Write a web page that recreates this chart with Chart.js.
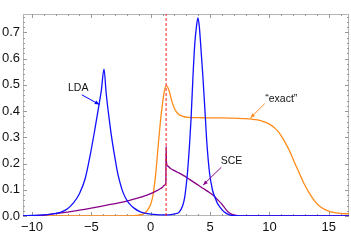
<!DOCTYPE html>
<html>
<head>
<meta charset="utf-8">
<script src="https://cdn.jsdelivr.net/npm/chart.js@4"></script>
<style>
  html, body { margin: 0; padding: 0; background: #fff; }
  canvas { display: block; }
</style>
</head>
<body>
<canvas id="density" width="351" height="248"></canvas>
<script>
// axis ticks
const xTicks = [-10, -5, 0, 5, 10, 15];
const yTicks = [0, 0.1, 0.2, 0.3, 0.4, 0.5, 0.6, 0.7];

// LDA density (blue)
const ldaX = [-10.75, -10, -9, -8.5, -8, -7.5, -7, -6.5, -6, -5.5, -5.1, -4.7, -4.4, -4.15, -3.93,
  -3.75, -3.55, -3.35, -3.15, -3.0, -2.85, -2.6, -2.33, -2.0, -1.76, -1.4, -0.92, -0.5, 0, 0.5, 1.0, 1.3,
  1.7, 2.0, 2.4, 2.7, 2.86, 3.0, 3.1, 3.28, 3.4, 3.56, 3.72, 3.85, 3.98, 4.1, 4.2, 4.4, 4.6, 4.73, 4.96,
  5.2, 5.38, 5.6, 5.8, 6.2, 6.64, 7.2, 8, 10, 12, 14, 16.7];
const ldaY = [0.001, 0.002, 0.004, 0.006, 0.01, 0.016, 0.028, 0.05, 0.085, 0.145, 0.23, 0.33, 0.41, 0.48, 0.56,
  0.47, 0.39, 0.32, 0.26, 0.22, 0.18, 0.13, 0.09, 0.06, 0.045, 0.03, 0.017, 0.011, 0.007, 0.005, 0.004, 0.004,
  0.005, 0.008, 0.015, 0.04, 0.07, 0.12, 0.165, 0.277, 0.37, 0.53, 0.66, 0.72, 0.755, 0.72, 0.66, 0.53, 0.38, 0.28, 0.163,
  0.1, 0.075, 0.05, 0.036, 0.015, 0.004, 0.001, 0, 0, 0, 0, 0];

// "exact" density (orange)
const exactX = [-10.75, -6, -2, -1.5, -1, -0.6, -0.3, 0, 0.2, 0.4, 0.6, 0.8, 1.0, 1.15, 1.3, 1.45, 1.6, 1.8, 2.0,
  2.3, 2.7, 3.2, 4, 5, 6, 7, 8, 8.5, 9, 9.5, 10, 10.5, 10.84, 11.2, 11.68, 12.1, 12.52, 12.9, 13.36, 13.8, 14.2,
  14.6, 15.04, 15.5, 16, 16.7];
const exactY = [0, 0, 0, 0.001, 0.003, 0.008, 0.02, 0.045, 0.08, 0.15, 0.25, 0.35, 0.43, 0.475, 0.497, 0.49, 0.47,
  0.435, 0.41, 0.39, 0.38, 0.376, 0.375, 0.374, 0.374, 0.373, 0.371, 0.369, 0.366, 0.36, 0.35, 0.333, 0.316, 0.29,
  0.25, 0.205, 0.163, 0.125, 0.087, 0.058, 0.038, 0.026, 0.018, 0.013, 0.01, 0.008];

// SCE density (purple)
const sceX = [-10.75, -10, -9.33, -8.5, -7.65, -7, -6, -5, -4.3, -3.5, -2.6, -2, -1.5, -0.9, -0.5, 0, 0.4, 0.8,
  1.0, 1.15, 1.28, 1.3, 1.33, 1.45, 1.7, 1.87, 2.3, 2.71, 3.1, 3.55, 4, 4.39, 4.8, 5.24, 5.6, 5.94, 6.2, 6.5,
  6.8, 7.2, 7.8, 10, 16.7];
const sceY = [0, 0.001, 0.002, 0.006, 0.011, 0.015, 0.022, 0.03, 0.036, 0.043, 0.051, 0.057, 0.063, 0.071, 0.077,
  0.085, 0.094, 0.104, 0.11, 0.117, 0.126, 0.265, 0.205, 0.19, 0.18, 0.176, 0.166, 0.156, 0.145, 0.131, 0.118, 0.106,
  0.094, 0.08, 0.064, 0.048, 0.033, 0.016, 0.007, 0.002, 0, 0, 0];

// dashed marker position
const markerX = 1.3;

const xMin = -10.75, xMax = 16.7, yMin = 0, yMax = 0.77;

const notes = [
  { text: 'LDA', color: '#0000ff', tx: -6.1, ty: 0.487, from: [-5.8, 0.462], to: [-4.32, 0.425] },
  { text: '\u201cexact\u201d', color: '#ff8c1a', tx: 11.0, ty: 0.447, from: [9.6, 0.428], to: [8.4, 0.374] },
  { text: 'SCE', color: '#8b008b', tx: 6.8, ty: 0.21, from: [5.95, 0.186], to: [4.42, 0.118] }
];

const zip = (xs, ys) => xs.map((x, i) => ({ x: x, y: ys[i] }));
const FONT = '"Liberation Sans", Arial, Helvetica, sans-serif';

const framePlugin = {
  id: 'frame',
  beforeDatasetsDraw(chart) {
    const { ctx, chartArea: a, scales: { x, y } } = chart;
    ctx.save();
    ctx.strokeStyle = '#b4b4b4';
    ctx.lineWidth = 1;
    ctx.strokeRect(a.left + 0.5, a.top + 0.5, a.right - a.left - 1, a.bottom - a.top - 1);
    ctx.strokeStyle = '#999';
    ctx.beginPath();
    for (let v = -10; v <= 16; v++) {
      const px = Math.round(x.getPixelForValue(v)) + 0.5;
      const len = v % 5 === 0 ? 4 : 2;
      ctx.moveTo(px, a.bottom); ctx.lineTo(px, a.bottom - len);
      ctx.moveTo(px, a.top); ctx.lineTo(px, a.top + len);
    }
    for (let k = 0; k <= 38; k++) {
      const py = Math.round(y.getPixelForValue(k * 0.02)) + 0.5;
      const len = k % 5 === 0 ? 4 : 2;
      ctx.moveTo(a.left, py); ctx.lineTo(a.left + len, py);
      ctx.moveTo(a.right, py); ctx.lineTo(a.right - len, py);
    }
    ctx.stroke();
    ctx.restore();
  }
};

const notePlugin = {
  id: 'notes',
  afterDatasetsDraw(chart) {
    const { ctx, scales: { x, y } } = chart;
    ctx.save();
    notes.forEach(n => {
      const x0 = x.getPixelForValue(n.from[0]), y0 = y.getPixelForValue(n.from[1]);
      const x1 = x.getPixelForValue(n.to[0]), y1 = y.getPixelForValue(n.to[1]);
      ctx.strokeStyle = n.color;
      ctx.fillStyle = n.color;
      ctx.lineWidth = 1;
      ctx.beginPath();
      ctx.moveTo(x0, y0); ctx.lineTo(x1, y1);
      ctx.stroke();
      const ang = Math.atan2(y1 - y0, x1 - x0);
      ctx.beginPath();
      ctx.moveTo(x1, y1);
      ctx.lineTo(x1 - 5 * Math.cos(ang - 0.4), y1 - 5 * Math.sin(ang - 0.4));
      ctx.lineTo(x1 - 5 * Math.cos(ang + 0.4), y1 - 5 * Math.sin(ang + 0.4));
      ctx.closePath();
      ctx.fill();
      ctx.fillStyle = '#111';
      ctx.font = '10.5px ' + FONT;
      ctx.textAlign = 'center';
      ctx.textBaseline = 'middle';
      ctx.fillText(n.text, x.getPixelForValue(n.tx), y.getPixelForValue(n.ty));
    });
    ctx.restore();
  }
};

const line = (data, color, width) => ({
  data: data,
  showLine: true,
  borderColor: color,
  borderWidth: width,
  pointRadius: 0,
  fill: false,
  cubicInterpolationMode: 'monotone'
});

const marker = line([{ x: markerX, y: yMin }, { x: markerX, y: yMax }], '#ff2020', 1);
marker.borderDash = [3, 2];
marker.cubicInterpolationMode = 'default';

new Chart(document.getElementById('density'), {
  type: 'scatter',
  data: {
    datasets: [
      marker,
      line(zip(ldaX, ldaY), '#1010ff', 1.3),
      line(zip(sceX, sceY), '#880088', 1.3),
      line(zip(exactX, exactY), '#ff8c1a', 1.3)
    ]
  },
  options: {
    responsive: false,
    animation: false,
    devicePixelRatio: 1,
    layout: { padding: { top: 14, right: 2, left: 0, bottom: 0 } },
    plugins: { legend: { display: false }, tooltip: { enabled: false } },
    scales: {
      x: {
        type: 'linear',
        min: xMin,
        max: xMax,
        grid: { display: false, drawTicks: false },
        border: { display: false },
        afterBuildTicks: s => { s.ticks = xTicks.map(v => ({ value: v })); },
        afterFit: s => { s.height = 32; },
        ticks: {
          padding: 4,
          color: '#111',
          font: { family: FONT, size: 13 },
          maxRotation: 0,
          callback: v => (v < 0 ? '\u2212' + Math.abs(v) : String(v))
        }
      },
      y: {
        type: 'linear',
        min: yMin,
        max: yMax,
        grid: { display: false, drawTicks: false },
        border: { display: false },
        afterBuildTicks: s => { s.ticks = yTicks.map(v => ({ value: v })); },
        afterFit: s => { s.width = 23; },
        ticks: {
          padding: 3,
          color: '#111',
          font: { family: FONT, size: 13 },
          callback: v => v.toFixed(1)
        }
      }
    }
  },
  plugins: [framePlugin, notePlugin]
});
</script>
</body>
</html>
